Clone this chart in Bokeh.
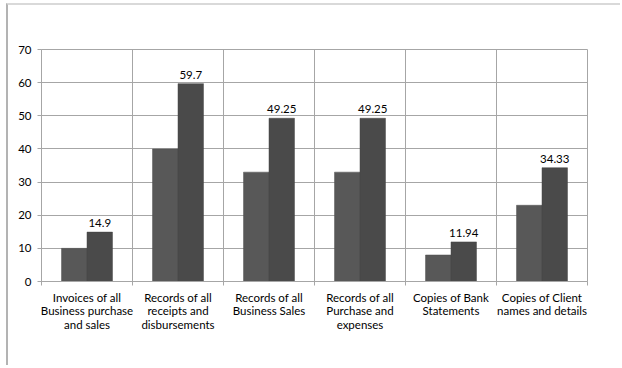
from bokeh.plotting import figure
from bokeh.models import FixedTicker, ColumnDataSource, Range1d, LinearAxis, CustomLabelingPolicy
from bokeh.core.properties import value
from bokeh.embed import file_html
from bokeh.resources import INLINE

categories = [
    "Invoices of all\nBusiness purchase\nand sales",
    "Records of all\nreceipts and\ndisbursements",
    "Records of all\nBusiness Sales",
    "Records of all\nPurchase and\nexpenses",
    "Copies of Bank\nStatements",
    "Copies of Client\nnames and details",
]
series_a = [10, 40, 33, 33, 8, 23]
series_b = [14.9, 59.7, 49.25, 49.25, 11.94, 34.33]
labels_b = ["14.9", "59.7", "49.25", "49.25", "11.94", "34.33"]
y_ticks = [0, 10, 20, 30, 40, 50, 60, 70]

FONT = "Lato"
FS = "11.5px"
GRID = "#a6a6a6"
BW = 0.28
n = len(categories)
centers = [i + 0.5 for i in range(n)]
bounds = list(range(n + 1))

p = figure(width=614, height=362, output_backend="svg", toolbar_location=None,
           x_range=Range1d(0, n), y_range=Range1d(0, 70),
           min_border_left=33, min_border_right=35, min_border_top=44,
           min_border_bottom=86, x_axis_location=None)
p.styles = {"border-top": "2px solid #d9d9d9", "border-left": "2px solid #b3b3b3",
            "margin-left": "6px", "margin-top": "3px"}
p.background_fill_color = "white"
p.border_fill_color = "white"
p.outline_line_color = GRID

src_a = ColumnDataSource(dict(x=[c - BW / 2 for c in centers], top=series_a))
src_b = ColumnDataSource(dict(x=[c + BW / 2 for c in centers], top=series_b, lab=labels_b))
p.vbar(x="x", top="top", width=BW, source=src_a, fill_color="#585858", line_color="#505050", line_width=0.5)
p.vbar(x="x", top="top", width=BW, source=src_b, fill_color="#4a4a4a", line_color="#444444", line_width=0.5)
p.text(x="x", y="top", text="lab", source=src_b, text_align="center", text_baseline="bottom",
       y_offset=-5, text_font=value(FONT), text_font_size=FS, text_color="#000000")

# axis with tick marks at category boundaries (labels suppressed)
tick_axis = LinearAxis(ticker=FixedTicker(ticks=bounds, minor_ticks=[]))
tick_axis.major_label_policy = CustomLabelingPolicy(code="return new Set()")
tick_axis.major_label_standoff = 0
tick_axis.major_tick_out = 4
tick_axis.major_tick_in = 0
tick_axis.major_tick_line_color = GRID
tick_axis.minor_tick_line_color = None
tick_axis.axis_line_color = GRID
p.add_layout(tick_axis, "below")

# axis carrying the category labels
lab_axis = LinearAxis(ticker=FixedTicker(ticks=centers, minor_ticks=[]))
lab_axis.major_label_overrides = {c: categories[i] for i, c in enumerate(centers)}
lab_axis.major_tick_line_color = None
lab_axis.minor_tick_line_color = None
lab_axis.axis_line_color = None
lab_axis.major_label_text_font = FONT
lab_axis.major_label_text_font_size = FS
lab_axis.major_label_text_color = "#000000"
lab_axis.major_label_text_line_height = 1.05
lab_axis.major_label_standoff = -12
p.add_layout(lab_axis, "below")

ya = p.yaxis[0]
ya.ticker = FixedTicker(ticks=y_ticks, minor_ticks=[])
ya.minor_tick_line_color = None
ya.major_tick_out = 4
ya.major_tick_in = 0
ya.major_tick_line_color = GRID
ya.axis_line_color = GRID
ya.major_label_text_font = FONT
ya.major_label_text_font_size = FS
ya.major_label_text_color = "#000000"
ya.major_label_standoff = 6

p.xgrid.ticker = FixedTicker(ticks=bounds, minor_ticks=[])
p.xgrid.grid_line_color = GRID
p.ygrid.grid_line_color = GRID
p.ygrid.ticker = FixedTicker(ticks=y_ticks, minor_ticks=[])

open("out.html", "w").write(file_html(p, INLINE))
